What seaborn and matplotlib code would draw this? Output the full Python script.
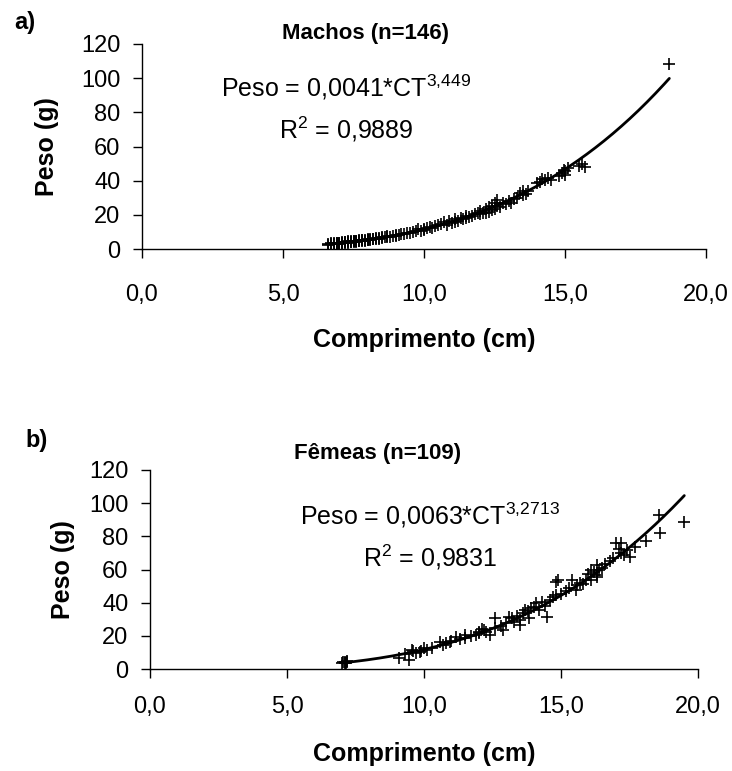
import numpy as np
import pandas as pd
import matplotlib
matplotlib.use('Agg')
import matplotlib.pyplot as plt
import seaborn as sns

# Machos (n=146): comprimento (cm) x peso (g)
machos_ct = [6.6, 6.6, 6.7, 6.7, 6.8, 6.8, 6.9, 6.9, 6.9, 7.0, 7.0, 7.0,
             7.1, 7.1, 7.1, 7.2, 7.2, 7.2, 7.3, 7.3, 7.3, 7.4, 7.4, 7.4,
             7.5, 7.5, 7.5, 7.6, 7.6, 7.6, 7.7, 7.7, 7.7, 7.8, 7.8, 7.8,
             7.9, 7.9, 8.0, 8.0, 8.0, 8.1, 8.1, 8.2, 8.2, 8.3, 8.3, 8.4,
             8.4, 8.5, 8.5, 8.6, 8.7, 8.7, 8.8, 8.9, 9.0, 9.0, 9.1, 9.2,
             9.3, 9.4, 9.5, 9.6, 9.7, 9.8, 9.9, 10.0, 10.0, 10.1, 10.2, 10.3,
             10.4, 10.5, 10.6, 10.7, 10.8, 10.9, 11.0, 11.1, 11.1, 11.2, 11.3, 11.4,
             11.5, 11.5, 11.6, 11.7, 11.8, 11.9, 12.0, 12.0, 12.1, 12.2, 12.2, 12.3,
             12.3, 12.4, 12.4, 12.5, 12.5, 12.6, 12.6, 12.7, 12.8, 12.9, 13.0, 13.1,
             13.2, 13.3, 13.4, 13.5, 13.5, 13.6, 13.7, 14.0, 14.1, 14.2, 14.3, 14.4,
             14.5, 14.8, 14.9, 14.95, 15.0, 15.0, 15.1, 15.5, 15.6, 15.7, 18.7]
machos_peso = [2.6, 3.1, 2.8, 3.3, 2.9, 3.4, 3.0, 3.3, 3.6, 3.2, 3.5, 3.8,
               3.4, 3.7, 4.0, 3.6, 3.9, 4.2, 3.8, 4.1, 4.4, 4.0, 4.3, 4.6,
               4.1, 4.4, 4.8, 4.3, 4.6, 4.9, 4.5, 4.8, 5.1, 4.7, 5.0, 5.3,
               4.9, 5.3, 5.1, 5.4, 5.7, 5.3, 5.7, 5.6, 6.1, 5.8, 6.3, 6.0,
               6.5, 6.4, 6.8, 6.8, 7.0, 7.4, 7.3, 7.8, 7.8, 8.3, 8.3, 8.8,
               9.0, 9.4, 9.6, 10.1, 10.4, 11.8, 10.8, 11.2, 12.0, 12.3, 12.8, 12.1,
               13.3, 13.9, 14.5, 15.8, 13.9, 16.2, 15.2, 17.3, 15.8, 16.3, 18.2, 17.4,
               19.5, 18.2, 18.8, 19.6, 20.3, 21.2, 22.5, 20.6, 20.8, 23.6, 21.0, 21.9,
               24.3, 25.2, 23.0, 23.4, 26.8, 28.6, 24.9, 24.8, 27.1, 26.5, 28.0, 27.2,
               29.5, 30.1, 32.5, 33.9, 31.8, 32.4, 34.0, 38.5, 39.5, 40.8, 40.2, 41.5,
               40.5, 43.0, 44.2, 46.5, 43.3, 45.5, 47.6, 48.5, 50.0, 48.0, 108.5]

# Fêmeas (n=109)
femeas_ct = [7.0, 7.05, 7.1, 7.1, 7.15, 7.2, 7.2, 9.6, 9.7, 9.9,
             9.1, 9.3, 9.45, 9.55, 9.85, 10.0, 10.1, 10.3, 10.6, 10.7,
             10.8, 10.95, 11.0, 11.15, 11.3, 11.5, 11.5, 11.7, 11.9, 12.0,
             12.0, 12.1, 12.2, 12.25, 12.4, 12.6, 12.6, 12.8, 12.9, 13.0,
             13.1, 13.2, 13.3, 13.4, 13.5, 13.5, 13.6, 13.7, 13.8, 13.85,
             13.9, 14.0, 14.1, 14.2, 14.3, 14.4, 14.5, 14.6, 14.7, 14.8,
             14.8, 14.9, 15.0, 15.2, 15.3, 15.4, 15.55, 15.6, 15.7, 15.8,
             15.9, 16.0, 16.1, 16.1, 16.2, 16.3, 16.3, 16.3, 16.4, 16.5,
             16.6, 16.8, 16.9, 17.0, 17.1, 17.2, 17.2, 17.3, 17.4, 17.5,
             17.7, 18.1, 18.6, 18.57, 19.5]
femeas_peso = [3.6, 4.5, 4.2, 3.5, 3.9, 4.8, 4.4, 10.6, 9.8, 11.0,
               6.6, 8.9, 5.4, 11.5, 10.3, 12.4, 11.5, 12.8, 16.3, 14.5,
               15.7, 16.3, 17.0, 19.3, 17.8, 18.7, 20.5, 19.8, 20.8, 22.3,
               21.7, 24.0, 23.5, 22.3, 20.5, 30.8, 24.7, 26.0, 23.5, 27.5,
               31.4, 30.8, 28.6, 32.2, 26.5, 29.5, 33.8, 35.6, 34.8, 30.8,
               36.5, 37.4, 39.8, 35.6, 40.4, 38.0, 31.4, 41.5, 43.4, 44.6,
               52.5, 53.7, 45.5, 47.0, 49.0, 53.7, 47.6, 50.5, 52.0, 51.2,
               53.7, 57.5, 53.7, 60.0, 58.5, 56.7, 55.5, 62.7, 59.7, 61.0,
               63.5, 65.0, 67.0, 76.0, 72.5, 76.0, 70.0, 68.5, 71.5, 67.5,
               73.6, 77.0, 82.0, 92.9, 88.6]

# power fits printed on the chart: Peso = a * CT^b
fit_machos = (0.0041, 3.449)
fit_femeas = (0.0063, 3.2713)

x_ticks = [0, 5, 10, 15, 20]
x_tick_labels = ['0,0', '5,0', '10,0', '15,0', '20,0']
y_ticks = [0, 20, 40, 60, 80, 100, 120]

sns.set_style('ticks')
plt.rcParams['font.family'] = ['Liberation Sans', 'DejaVu Sans']
plt.rcParams['mathtext.fontset'] = 'custom'
plt.rcParams['mathtext.rm'] = 'Liberation Sans'
plt.rcParams['mathtext.it'] = 'Liberation Sans'
for key in ['text.color', 'axes.labelcolor', 'xtick.color', 'ytick.color']:
    plt.rcParams[key] = 'black'

W, H = 732, 771
fig = plt.figure(figsize=(W / 100, H / 100), dpi=100)


def draw_panel(ax, ct, peso, fit, xpad):
    df = pd.DataFrame({'ct': ct, 'peso': peso})
    sns.scatterplot(data=df, x='ct', y='peso', marker='+', color='black',
                    s=80, linewidth=1.2, ax=ax, zorder=3)
    a, b = fit
    xs = np.linspace(min(ct), max(ct), 200)
    sns.lineplot(x=xs, y=a * xs ** b, color='black', linewidth=2.0, ax=ax, zorder=4)
    ax.set_xlim(0, 20)
    ax.set_ylim(0, 120)
    ax.set_xticks(x_ticks)
    ax.set_xticklabels(x_tick_labels)
    ax.set_yticks(y_ticks)
    sns.despine(ax=ax)
    for sp in ['left', 'bottom']:
        ax.spines[sp].set_color('black')
        ax.spines[sp].set_linewidth(1.0)
    ax.tick_params(axis='both', direction='out', length=6.5, width=1.0,
                   colors='black', labelsize=17)
    ax.tick_params(axis='y', pad=9)
    ax.tick_params(axis='x', pad=xpad)
    ax.set_xlabel('Comprimento (cm)', fontsize=18, fontweight='bold')
    ax.set_ylabel('Peso (g)', fontsize=18, fontweight='bold')


# a) machos
ax1 = fig.add_axes([142 / W, 1 - 249 / H, 564 / W, 205 / H])
draw_panel(ax1, machos_ct, machos_peso, fit_machos, xpad=19)
ax1.xaxis.set_label_coords(0.5, -0.385)
ax1.yaxis.set_label_coords(-83 / 564, 0.5)

# b) fêmeas
ax2 = fig.add_axes([150 / W, 1 - 669 / H, 548 / W, 199 / H])
draw_panel(ax2, femeas_ct, femeas_peso, fit_femeas, xpad=13)
ax2.xaxis.set_label_coords(0.5, -0.365)
ax2.yaxis.set_label_coords(-75 / 548, 0.5)

fig.text(25 / W, 1 - 22 / H, 'a)', fontsize=17, fontweight='bold', ha='center', va='center')
fig.text(37 / W, 1 - 441 / H, 'b)', fontsize=17, fontweight='bold', ha='center', va='center')
fig.text(365 / W, 1 - 33 / H, 'Machos (n=146)', fontsize=16, fontweight='bold',
         ha='center', va='center')
fig.text(378 / W, 1 - 453 / H, 'Fêmeas (n=109)', fontsize=16, fontweight='bold',
         ha='center', va='center')

fig.text(346 / W, 1 - 87 / H, r'Peso = 0,0041*CT$^{\mathrm{3{,}449}}$', fontsize=18,
         ha='center', va='center')
fig.text(346 / W, 1 - 129 / H, r'R$^{\mathrm{2}}$ = 0,9889', fontsize=18,
         ha='center', va='center')
fig.text(430 / W, 1 - 515 / H, r'Peso = 0,0063*CT$^{\mathrm{3{,}2713}}$', fontsize=18,
         ha='center', va='center')
fig.text(430 / W, 1 - 557 / H, r'R$^{\mathrm{2}}$ = 0,9831', fontsize=18,
         ha='center', va='center')

fig.savefig('out.png', dpi=100, facecolor='white')
